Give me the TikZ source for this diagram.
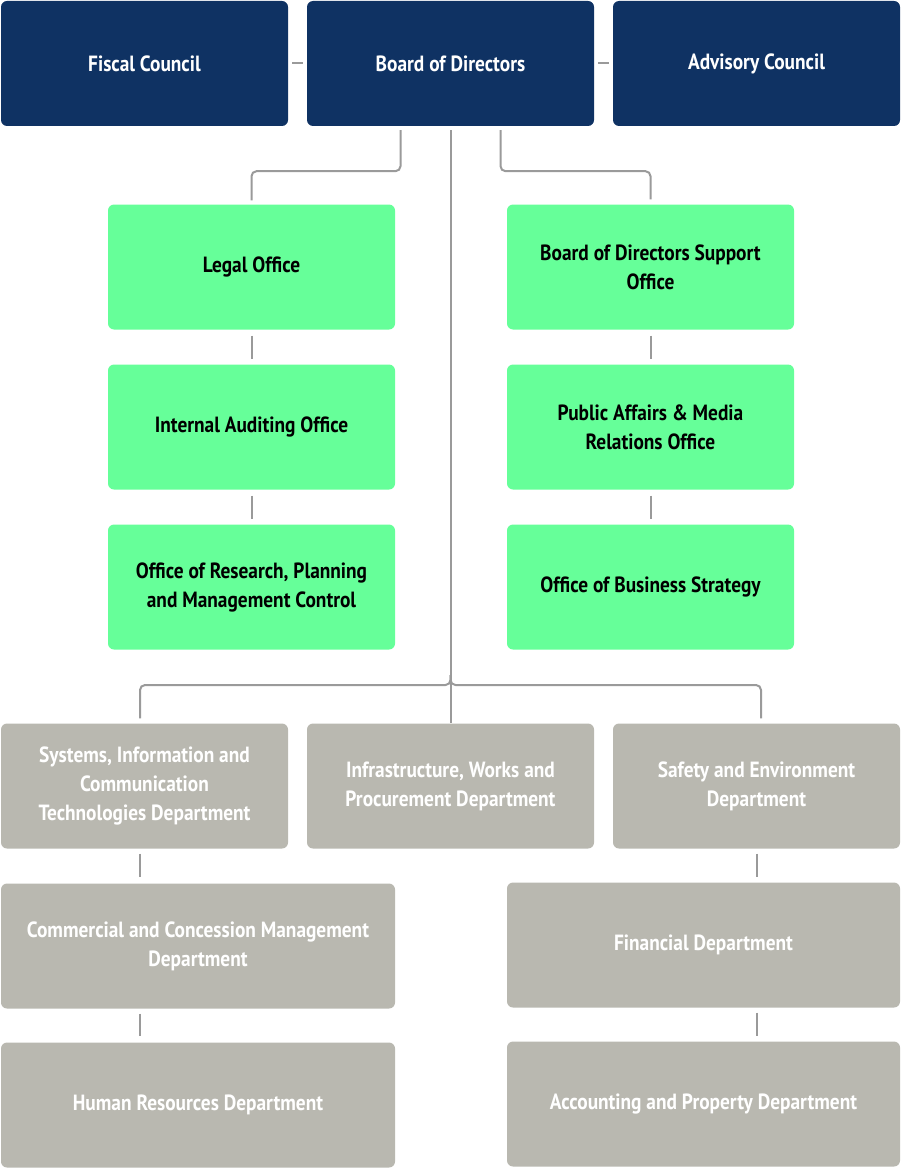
\documentclass[tikz,border=0pt]{standalone}
\usepackage{fontspec}
\newfontfamily\labfont[FakeStretch=0.88]{PT Sans}
\usetikzlibrary{calc}
\definecolor{navy}{HTML}{0F3263}
\definecolor{mint}{HTML}{66FF99}
\definecolor{stone}{HTML}{B9B8B0}
\definecolor{linegray}{HTML}{9A9A9A}
\begin{document}
\begin{tikzpicture}[x=1pt,y=1pt,
  box/.style={rectangle, rounded corners=6pt, minimum height=125pt, inner sep=0pt,
    align=center, font=\labfont\bfseries\fontsize{22}{29}\selectfont},
  topbox/.style={box, fill=navy, text=white, minimum width=287pt},
  greenbox/.style={box, fill=mint, text=black, minimum width=287pt},
  greybox/.style={box, fill=stone, text=white, minimum width=287pt},
  widebox/.style={box, fill=stone, text=white, minimum width=394pt},
  conn/.style={draw=linegray, line width=2pt, rounded corners=5pt}
]
\useasboundingbox (0,0) rectangle (902,-1169);
% top row
\node[topbox] (fiscal) at (144.5,-63.5) {Fiscal Council};
\node[topbox] (board) at (450.5,-63.5) {Board of Directors};
\node[topbox] (advisory) at (756.5,-63.5) {Advisory Council};
% green offices
\node[greenbox] (legal) at (251.5,-267) {Legal Office};
\node[greenbox] (audit) at (251.5,-427) {Internal Auditing Office};
\node[greenbox] (research) at (251.5,-587) {Office of Research, Planning\\and Management Control};
\node[greenbox] (support) at (650.5,-267) {Board of Directors Support\\Office};
\node[greenbox] (public) at (650.5,-427) {Public Affairs \& Media\\Relations Office};
\node[greenbox] (strategy) at (650.5,-587) {Office of Business Strategy};
% departments
\node[greybox] (systems) at (144.5,-786) {Systems, Information and\\Communication\\Technologies Department};
\node[greybox] (infra) at (450.5,-786) {Infrastructure, Works and\\Procurement Department};
\node[greybox] (safety) at (756.5,-786) {Safety and Environment\\Department};
\node[widebox] (commercial) at (198,-946) {Commercial and Concession Management\\Department};
\node[widebox] (hr) at (198,-1105) {Human Resources Department};
\node[widebox, minimum width=393pt] (financial) at (703.5,-945) {Financial Department};
\node[widebox, minimum width=393pt] (accounting) at (703.5,-1104) {Accounting and Property Department};
% connectors
\draw[conn, shorten <=4pt, shorten >=4pt] (fiscal.east) -- (board.west);
\draw[conn, shorten <=4pt, shorten >=4pt] (board.east) -- (advisory.west);
\coordinate (bl) at ($(board.south)+(-50,0)$);
\coordinate (br) at ($(board.south)+(50,0)$);
\draw[conn, shorten <=4pt, shorten >=4pt] (bl) -- ++(0,-45) -| (legal.north);
\draw[conn, shorten <=4pt, shorten >=5pt] (br) -- ++(0,-45) -| (support.north);
\draw[conn, shorten <=4pt] (board.south) -- (infra.north);
\coordinate (J) at (450.5,-685);
\coordinate (sysin) at ($(systems.north)+(-4.5,0)$);
\coordinate (safin) at ($(safety.north)+(4.5,0)$);
\draw[conn, shorten >=5pt] ($(J)+(0,10)$) -- (J) -| (sysin);
\draw[conn, shorten >=5pt] ($(J)+(0,10)$) -- (J) -| (safin);
\draw[conn, shorten <=6pt, shorten >=5pt] (legal.south) -- (audit.north);
\draw[conn, shorten <=6pt, shorten >=5pt] (audit.south) -- (research.north);
\draw[conn, shorten <=6pt, shorten >=5pt] (support.south) -- (public.north);
\draw[conn, shorten <=6pt, shorten >=5pt] (public.south) -- (strategy.north);
\coordinate (sysout) at ($(systems.south)+(-4.5,0)$);
\draw[conn, shorten <=5pt, shorten >=6pt] (sysout) -- (sysout |- commercial.north);
\draw[conn, shorten <=5pt, shorten >=6pt] (sysout |- commercial.south) -- (sysout |- hr.north);
\draw[conn, shorten <=5pt, shorten >=5pt] (safety.south) -- (safety.south |- financial.north);
\draw[conn, shorten <=5pt, shorten >=5pt] (safety.south |- financial.south) -- (safety.south |- accounting.north);
\end{tikzpicture}
\end{document}
